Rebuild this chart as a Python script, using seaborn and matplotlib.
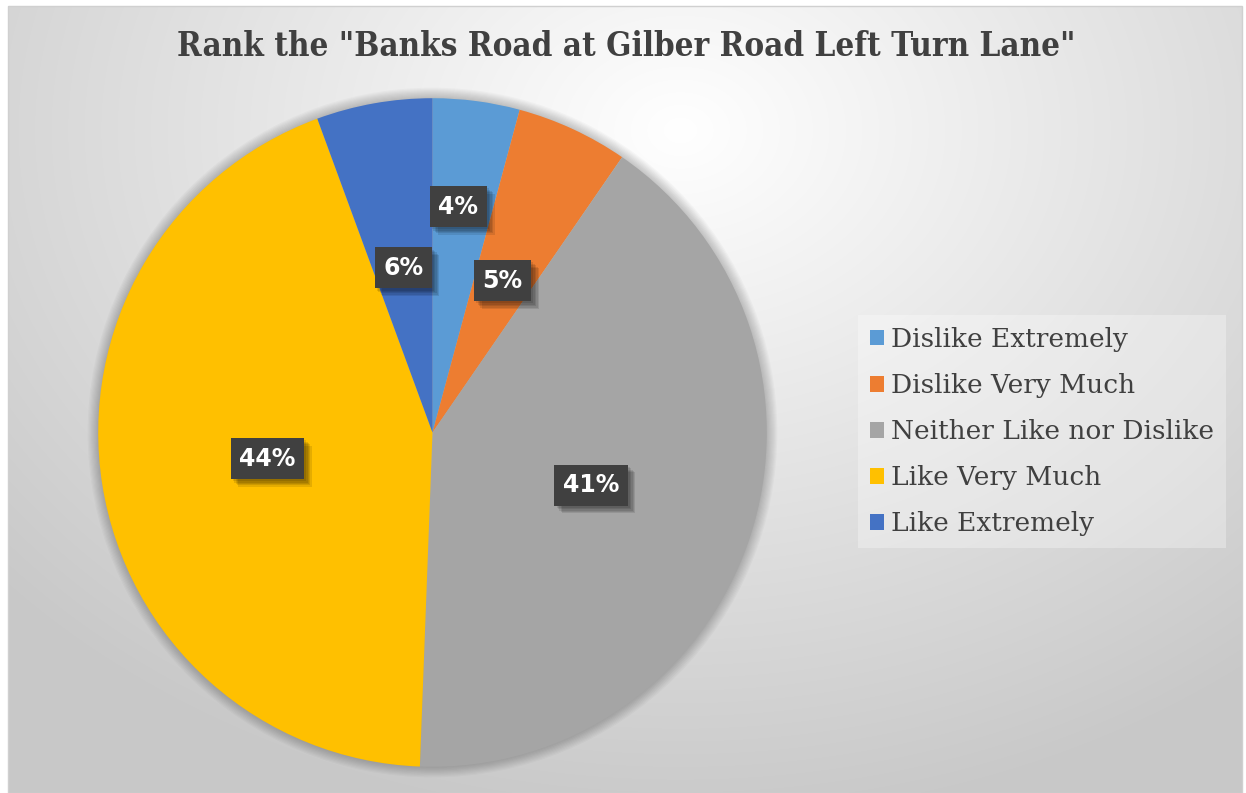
import numpy as np
import matplotlib
matplotlib.use("Agg")
import matplotlib.pyplot as plt
import matplotlib.patheffects as pe
from matplotlib.patches import Circle
import seaborn as sns

# Survey responses (percent of respondents)
categories = ["Dislike Extremely", "Dislike Very Much", "Neither Like nor Dislike",
              "Like Very Much", "Like Extremely"]
shares = [4.2, 5.4, 41.0, 43.8, 5.6]
slice_colors = ["#5B9BD5", "#ED7D31", "#A5A5A5", "#FFC000", "#4472C4"]
title = 'Rank the "Banks Road at Gilber Road Left Turn Lane"'

sns.set_theme(style="white")
plt.rcParams["font.family"] = ["DejaVu Sans"]

W, H = 1246, 793
fig = plt.figure(figsize=(W / 100, H / 100), dpi=100)
fig.patch.set_facecolor("white")

# chart area with a soft radial grey gradient
x0, x1, y0, y1 = 8, 1242, 0, 787  # y measured from bottom
bg = fig.add_axes([x0 / W, y0 / H, (x1 - x0) / W, (y1 - y0) / H])
xx, yy = np.meshgrid(np.arange(x0, x1), np.arange(H - y1, H - y0))
d = np.sqrt(((xx - 680) / 1.3) ** 2 + (yy - 130) ** 2)
g = (255 - 55 * np.clip(d / 700, 0, 1)) / 255
bg.imshow(np.dstack([g, g, g]), aspect="auto", interpolation="bilinear")
bg.set_axis_off()
fig.patches.append(plt.Rectangle((x0 / W, y0 / H), (x1 - x0) / W, (y1 - y0) / H,
                                 transform=fig.transFigure, fill=False,
                                 edgecolor="#d0d0d0", lw=1.0))

# pie axes: centre (432.5, 432.5) px from top, radius ~334 px
cx, cy, R = 432.5, H - 432.5, 334.3
ax = fig.add_axes([(cx - R) / W, (cy - R) / H, 2 * R / W, 2 * R / H])
ax.set_axis_off()
ax.patch.set_alpha(0)

wedges, _, autotexts = ax.pie(
    shares, colors=slice_colors, startangle=90, counterclock=False,
    autopct="%.0f%%", pctdistance=0.5, radius=1,
    wedgeprops=dict(linewidth=0, edgecolor="none"),
)
ax.set_xlim(-1, 1)
ax.set_ylim(-1, 1)
for w in wedges:
    w.set_zorder(2)

# soft shadow round the pie
for k in range(10):
    ax.add_patch(Circle((0, 0), 1 + 0.0035 * k, facecolor="black", clip_on=False,
                        alpha=0.025, edgecolor="none", zorder=0))

# the smallest slice's label sits further out
mid = np.deg2rad(90 - 360 * shares[0] / 200 + 1.0)
autotexts[0].set_position((0.68 * np.cos(mid), 0.68 * np.sin(mid)))

soft_shadow = [pe.withSimplePatchShadow(offset=(o, -o), shadow_rgbFace="black", alpha=0.1)
               for o in (1.5, 2.5, 3.5, 4.5, 5.5)]
for t in autotexts:
    t.set_color("white")
    t.set_fontsize(17)
    t.set_fontweight("bold")
    t.set_zorder(5)
    t.set_bbox(dict(boxstyle="square,pad=0.36", facecolor="#404040",
                    edgecolor="none", linewidth=0))
    t.get_bbox_patch().set_path_effects(soft_shadow + [pe.Normal()])

fig.text(626 / W, 1 - 56 / H, title, ha="center", va="baseline",
         fontsize=23.8, fontweight="bold", family="DejaVu Serif",
         fontstretch="condensed", color="#404040")

leg = fig.legend(
    wedges, categories, loc="upper left",
    bbox_to_anchor=(858 / W, 1 - 315 / H), bbox_transform=fig.transFigure,
    frameon=True, fancybox=False, borderaxespad=0, borderpad=0.45,
    handlelength=0.55, handleheight=0.55, handletextpad=0.25,
    labelspacing=0.8, prop=dict(family="DejaVu Serif", size=19),
    labelcolor="#404040",
)
fr = leg.get_frame()
fr.set_facecolor("white")
fr.set_alpha(0.3)
fr.set_linewidth(0)

fig.savefig("out.png", dpi=100)
